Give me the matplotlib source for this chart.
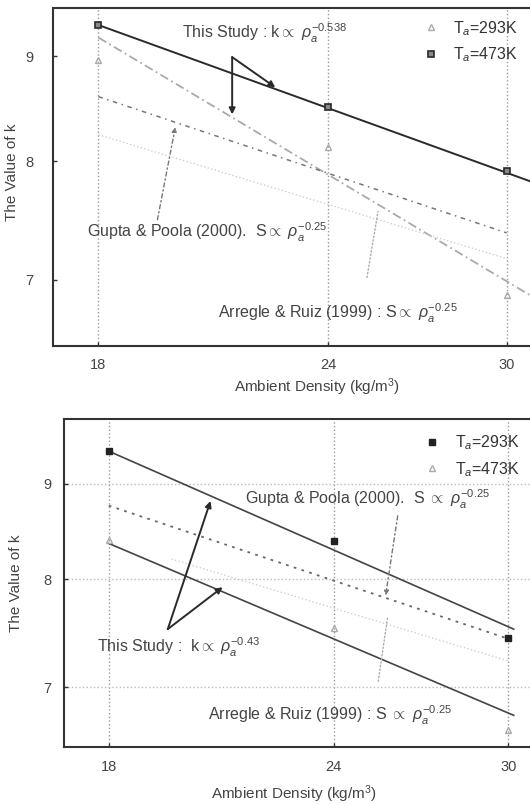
import matplotlib
matplotlib.use('Agg')
import matplotlib.pyplot as plt
from matplotlib.ticker import NullLocator

plt.rcParams['font.family'] = ['Liberation Sans', 'DejaVu Sans']
plt.rcParams['mathtext.fontset'] = 'custom'
plt.rcParams['mathtext.rm'] = 'Liberation Sans'
plt.rcParams['mathtext.it'] = 'Liberation Sans:italic'

# ── Data ────────────────────────────────────────────────────────────────────
density = [18, 24, 30]
x_ticks = [18, 24, 30]
y_ticks = [7, 8, 9]

# top panel
top_k_293 = [8.96, 8.13, 6.88]
top_k_473 = [9.32, 8.50, 7.91]
top_fit_x = [18, 30.9]
top_fit_293 = [9.19, 6.88]
top_fit_473 = [9.32, 7.82]
top_ref_x = [18, 30]
top_gupta = [8.60, 7.38]
top_arregle = [8.24, 7.17]

# bottom panel
bot_k_293 = [9.37, 8.39, 7.44]
bot_k_473 = [8.40, 7.53, 6.64]
bot_fit_x = [18, 30.2]
bot_fit_293 = [9.37, 7.52]
bot_fit_473 = [8.36, 6.76]
bot_gupta_x = [18, 30]
bot_gupta = [8.76, 7.43]
bot_arregle_x = [19.5, 30]
bot_arregle = [8.20, 7.23]

# ── Figure ──────────────────────────────────────────────────────────────────
fig = plt.figure(figsize=(5.3, 8.05), dpi=100, facecolor='white')
ax1 = fig.add_axes([0.0994, 0.5702, 0.906, 0.4199])
ax2 = fig.add_axes([0.1208, 0.0720, 0.887, 0.4075])

dark = '#2a2a2a'
mid = '#777777'
light = '#aaaaaa'
faint = '#cfcfcf'
fs = 11.5


def style_axes(ax, ylim, hgrid, ypad):
    ax.set_xscale('log')
    ax.set_yscale('log')
    ax.set_xlim(17, 31)
    ax.set_ylim(*ylim)
    ax.set_xticks(x_ticks)
    ax.set_xticklabels([str(t) for t in x_ticks])
    ax.set_yticks(y_ticks)
    ax.set_yticklabels([str(t) for t in y_ticks])
    ax.xaxis.set_minor_locator(NullLocator())
    ax.yaxis.set_minor_locator(NullLocator())
    ax.tick_params(direction='in', length=3, width=1, colors='#333333',
                   labelsize=10.5, labelcolor='#444444')
    ax.tick_params(axis='x', pad=9)
    ax.tick_params(axis='y', pad=ypad)
    ax.grid(True, axis='x', linestyle=':', color='#999999', linewidth=1.0)
    if hgrid:
        ax.grid(True, axis='y', linestyle=':', color='#bbbbbb', linewidth=1.0)
    for side in ['left', 'bottom', 'top']:
        ax.spines[side].set_color('#333333')
        ax.spines[side].set_linewidth(1.5)
    ax.spines['right'].set_visible(False)
    ax.set_xlabel('Ambient Density (kg/m$^3$)', fontsize=11, color='#444444')
    ax.set_ylabel('The Value of k', fontsize=11, color='#444444')


# ── Top panel ───────────────────────────────────────────────────────────────
ax = ax1
style_axes(ax, (6.5, 9.5), hgrid=False, ypad=14)
ax.plot(top_fit_x, top_fit_473, color=dark, linewidth=1.4)
ax.plot(top_fit_x, top_fit_293, color=light, linewidth=1.3,
        linestyle=(0, (5, 2, 1, 2)))
ax.plot(top_ref_x, top_gupta, color=mid, linewidth=1.1,
        linestyle=(0, (3, 3, 1, 3)))
ax.plot(top_ref_x, top_arregle, color=faint, linewidth=1.0, linestyle=':')
h293, = ax.plot(density, top_k_293, linestyle='none', marker='^',
                markersize=5, mfc='none', mec=light, mew=1.0,
                label='T$_a$=293K')
h473, = ax.plot(density, top_k_473, linestyle='none', marker='s',
                markersize=5, mfc='#888888', mec=dark, mew=1.2,
                label='T$_a$=473K')
ax.legend(handles=[h293, h473], loc='upper right', frameon=False,
          fontsize=fs, handletextpad=0.4, labelspacing=0.5,
          bbox_to_anchor=(1.0, 1.01), labelcolor='#333333')

ax.text(0.27, 0.925, r'This Study : k$\propto$ $\rho_a^{-0.538}$',
        transform=ax.transAxes, fontsize=fs, color='#444444', va='center')
arrow_dark = dict(arrowstyle='-|>', color=dark, linewidth=1.4,
                  mutation_scale=9, shrinkA=0, shrinkB=0)
ax.annotate('', xy=(21.28, 8.43), xytext=(21.28, 8.99), arrowprops=arrow_dark)
ax.annotate('', xy=(22.46, 8.69), xytext=(21.28, 8.99), arrowprops=arrow_dark)

ax.text(0.072, 0.335, r'Gupta & Poola (2000).  S$\propto$ $\rho_a^{-0.25}$',
        transform=ax.transAxes, fontsize=fs, color='#444444', va='center')
ax.annotate('', xy=(19.82, 8.31), xytext=(19.38, 7.49),
            arrowprops=dict(arrowstyle='-|>', color=mid, linewidth=1.0,
                            linestyle=(0, (3, 2, 1, 2)), mutation_scale=7,
                            shrinkA=0, shrinkB=0))

ax.text(0.344, 0.095, r'Arregle & Ruiz (1999) : S$\propto$ $\rho_a^{-0.25}$',
        transform=ax.transAxes, fontsize=fs, color='#444444', va='center')
ax.annotate('', xy=(25.54, 7.56), xytext=(25.19, 7.02),
            arrowprops=dict(arrowstyle='-', color=light, linewidth=1.0,
                            linestyle=':', shrinkA=0, shrinkB=0))

ax.xaxis.set_label_coords(0.55, -0.09)
ax.yaxis.set_label_coords(-0.07, 0.515)

# ── Bottom panel ────────────────────────────────────────────────────────────
ax = ax2
style_axes(ax, (6.5, 9.75), hgrid=True, ypad=9)
ax.plot(bot_fit_x, bot_fit_293, color='#444444', linewidth=1.2)
ax.plot(bot_fit_x, bot_fit_473, color='#444444', linewidth=1.2)
ax.plot(bot_gupta_x, bot_gupta, color='#666666', linewidth=1.3,
        linestyle=(0, (1.5, 3)))
ax.plot(bot_arregle_x, bot_arregle, color=faint, linewidth=1.0,
        linestyle=':')
g293, = ax.plot(density, bot_k_293, linestyle='none', marker='s',
                markersize=5, mfc='#222222', mec='#222222',
                label='T$_a$=293K')
g473, = ax.plot(density, bot_k_473, linestyle='none', marker='^',
                markersize=5, mfc='none', mec=light, mew=1.0,
                label='T$_a$=473K')
ax.legend(handles=[g293, g473], loc='upper right', frameon=False,
          fontsize=fs, handletextpad=0.4, labelspacing=0.5,
          bbox_to_anchor=(1.0, 1.0), labelcolor='#333333')

ax.text(0.385, 0.755, r'Gupta & Poola (2000).  S $\propto$ $\rho_a^{-0.25}$',
        transform=ax.transAxes, fontsize=fs, color='#444444', va='center')
ax.annotate('', xy=(25.64, 7.84), xytext=(26.04, 8.65),
            arrowprops=dict(arrowstyle='-|>', color=mid, linewidth=1.0,
                            linestyle=(0, (3, 2, 1, 2)), mutation_scale=7,
                            shrinkA=0, shrinkB=0))

ax.text(0.07, 0.305, r'This Study :  k$\propto$ $\rho_a^{-0.43}$',
        transform=ax.transAxes, fontsize=fs, color='#444444', va='center')
ax.annotate('', xy=(20.50, 8.81), xytext=(19.41, 7.52), arrowprops=arrow_dark)
ax.annotate('', xy=(20.82, 7.92), xytext=(19.41, 7.52), arrowprops=arrow_dark)

ax.text(0.306, 0.095, r'Arregle & Ruiz (1999) : S $\propto$ $\rho_a^{-0.25}$',
        transform=ax.transAxes, fontsize=fs, color='#444444', va='center')
ax.annotate('', xy=(25.70, 7.62), xytext=(25.40, 7.05),
            arrowprops=dict(arrowstyle='-', color=light, linewidth=1.0,
                            linestyle=':', shrinkA=0, shrinkB=0))

ax.xaxis.set_label_coords(0.49, -0.112)
ax.yaxis.set_label_coords(-0.088, 0.5)

fig.savefig('out.png', dpi=100, facecolor='white')
